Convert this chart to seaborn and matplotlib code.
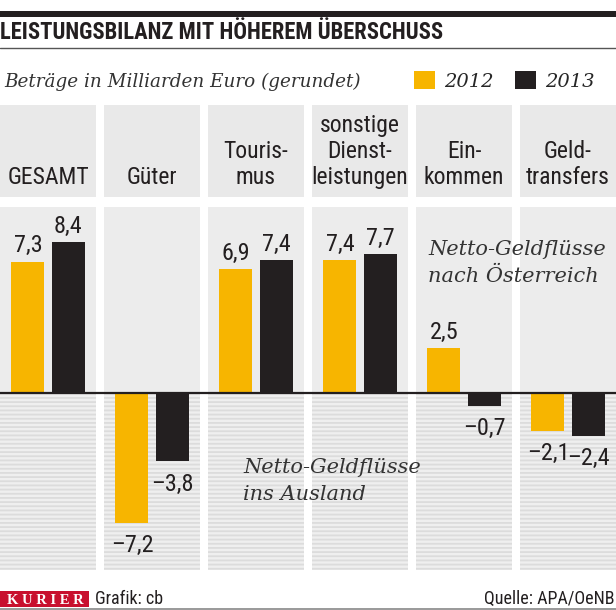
import os
import numpy as np
import pandas as pd
import seaborn as sns
import matplotlib
matplotlib.use("Agg")
import matplotlib.pyplot as plt
from matplotlib import font_manager
from matplotlib.font_manager import FontProperties
from matplotlib.patches import Rectangle
from matplotlib.lines import Line2D

# data (Mrd. Euro, gerundet)
bereiche = ["GESAMT", "Güter", "Tourismus", "sonstige Dienstleistungen", "Einkommen", "Geldtransfers"]
kopf_labels = ["GESAMT", "Güter", "Touris-\nmus", "sonstige\nDienst-\nleistungen", "Ein-\nkommen", "Geld-\ntransfers"]
jahre = ["2012", "2013"]
werte_2012 = [7.3, -7.2, 6.9, 7.4, 2.5, -2.1]
werte_2013 = [8.4, -3.8, 7.4, 7.7, -0.7, -2.4]

GELB = "#f7b500"
SCHWARZ = "#231f20"
SERIF = "DejaVu Serif"


def find_condensed(weight):
    """look for a narrow/condensed sans file, return its path or None"""
    prio = ["Liberation Sans Narrow", "Roboto Condensed", "Noto Sans", "Open Sans",
            "DejaVu Sans", "Lato", "Inter", "Roboto"]
    hits = []
    for f in font_manager.fontManager.ttflist:
        base = os.path.basename(f.fname).lower()
        narrow = (f.stretch in ("condensed", "semi-condensed")
                  or "narrow" in f.name.lower() or "condensed" in f.name.lower()
                  or "condensed" in base or "narrow" in base)
        if not narrow or f.style != "normal":
            continue
        if "extra" in base or "ultra" in base:
            continue
        w = f.weight if isinstance(f.weight, int) else (700 if "bold" in str(f.weight) else 400)
        if abs(w - weight) > 50:
            continue
        key = next((i for i, p in enumerate(prio) if f.name.startswith(p)), 99)
        hits.append((key, f.fname))
    hits.sort()
    return hits[0][1] if hits else None


REG = find_condensed(400)
BOLD = find_condensed(700)


def sans(size, bold=False):
    path = BOLD if bold else REG
    if path:
        return FontProperties(fname=path, size=size)
    # no narrow face: regular one, somewhat smaller
    return FontProperties(family="Liberation Sans", weight="bold" if bold else "normal",
                          size=size * 0.85)


sns.set_style("white")
plt.rcParams["font.family"] = ["DejaVu Sans"]
plt.rcParams["hatch.linewidth"] = 1.3

df = pd.DataFrame({
    "Bereich": bereiche * 2,
    "Jahr": [jahre[0]] * len(bereiche) + [jahre[1]] * len(bereiche),
    "Wert": werte_2012 + werte_2013,
})

W, H = 616, 610
fig = plt.figure(figsize=(W / 100, H / 100), dpi=100)
fx = lambda x: x / W
fy = lambda y: 1 - y / H

# layout in pixels
top_px, zero_px, bot_px, px_per_unit = 207, 393, 570, 18.0
half = 0.4615
xlim = (-half, len(bereiche) - 1 + half)

ax = fig.add_axes([0, fy(bot_px), 1, (bot_px - top_px) / H])
ymax = (zero_px - top_px) / px_per_unit
ymin = -(bot_px - zero_px) / px_per_unit

for i in range(len(bereiche)):
    ax.add_patch(Rectangle((i - half, 0), 2 * half, ymax, facecolor="#ececec",
                           lw=0, zorder=0))
    ax.add_patch(Rectangle((i - half, ymin), 2 * half, -ymin, facecolor="#efefef",
                           edgecolor="#dcdcdc", hatch="----", lw=0, zorder=0))

sns.barplot(data=df, x="Bereich", y="Wert", hue="Jahr", order=bereiche,
            hue_order=jahre, palette={jahre[0]: GELB, jahre[1]: SCHWARZ},
            width=0.77, gap=0.175, errorbar=None, saturation=1, linewidth=0,
            ax=ax, zorder=3)

ax.axhline(0, color=SCHWARZ, lw=1.6, zorder=4)

for cont in ax.containers:
    for bar in cont:
        v = bar.get_y() + bar.get_height() if bar.get_height() > 0 else bar.get_height()
        txt = f"{v:.1f}".replace(".", ",").replace("-", "\u2013")
        xc = bar.get_x() + bar.get_width() / 2
        if v >= 0:
            ax.annotate(txt, (xc, v), xytext=(0, 3), textcoords="offset points",
                        ha="center", va="bottom", fontproperties=sans(17.5),
                        color=SCHWARZ, zorder=5)
        else:
            ax.annotate(txt, (xc, v), xytext=(0, -8), textcoords="offset points",
                        ha="center", va="top", fontproperties=sans(17.5),
                        color=SCHWARZ, zorder=5)

handles, labels = ax.get_legend_handles_labels()
if ax.get_legend() is not None:
    ax.get_legend().remove()
ax.set_xlim(*xlim)
ax.set_ylim(ymin, ymax)
ax.axis("off")

# header panels
hax = fig.add_axes([0, fy(197), 1, (197 - 105) / H])
for i, lab in enumerate(kopf_labels):
    hax.add_patch(Rectangle((i - half, 0), 2 * half, 1, facecolor="#e9e9e9", lw=0))
    hax.text(i, 8 / 92, lab, ha="center", va="bottom", fontproperties=sans(17),
             linespacing=1.18, color=SCHWARZ)
hax.set_xlim(*xlim)
hax.set_ylim(0, 1)
hax.axis("off")

# title block
fig.add_artist(Rectangle((0, fy(17)), 1, 6 / H, transform=fig.transFigure,
                         facecolor=SCHWARZ, lw=0))
fig.text(fx(0), fy(39), "LEISTUNGSBILANZ MIT HÖHEREM ÜBERSCHUSS", ha="left",
         va="baseline", fontproperties=sans(16.3, bold=True), color=SCHWARZ)
fig.add_artist(Line2D([0, 1], [fy(48), fy(48)], transform=fig.transFigure,
                      color="#555555", lw=1))
fig.text(fx(4), fy(87), "Beträge in Milliarden Euro (gerundet)", ha="left",
         va="baseline", fontsize=13.2, family=SERIF, style="italic", color="#333333")

fig.legend(handles, labels, loc="center left", bbox_to_anchor=(fx(414), fy(81)),
           bbox_transform=fig.transFigure, ncol=2, frameon=False,
           prop=dict(family=SERIF, style="italic", size=14),
           handlelength=1.08, handleheight=1.03, handletextpad=0.46,
           columnspacing=1.13, borderpad=0, borderaxespad=0)

# annotations
fig.text(fx(428), fy(240), "Netto-Geldflüsse\nnach Österreich", ha="left", va="top",
         fontsize=15, family=SERIF, style="italic", color="#333333", linespacing=1.5)
fig.text(fx(243), fy(458), "Netto-Geldflüsse\nins Ausland", ha="left", va="top",
         fontsize=15, family=SERIF, style="italic", color="#333333", linespacing=1.5)

# footer
fig.add_artist(Rectangle((0, fy(607)), fx(89), 16 / H, transform=fig.transFigure,
                         facecolor="#c8102e", lw=0))
fig.text(fx(45), fy(603.5), "K U R I E R", ha="center", va="baseline", fontsize=10.5,
         family="Liberation Serif", fontweight="bold", color="white")
fig.text(fx(95), fy(604), "Grafik: cb", ha="left", va="baseline",
         fontproperties=sans(13), color=SCHWARZ)
fig.text(fx(614), fy(604), "Quelle: APA/OeNB", ha="right", va="baseline",
         fontproperties=sans(13), color=SCHWARZ)
fig.add_artist(Line2D([0, 1], [fy(608.5), fy(608.5)], transform=fig.transFigure,
                      color="#888888", lw=1.2))

fig.savefig("out.png", dpi=100)
